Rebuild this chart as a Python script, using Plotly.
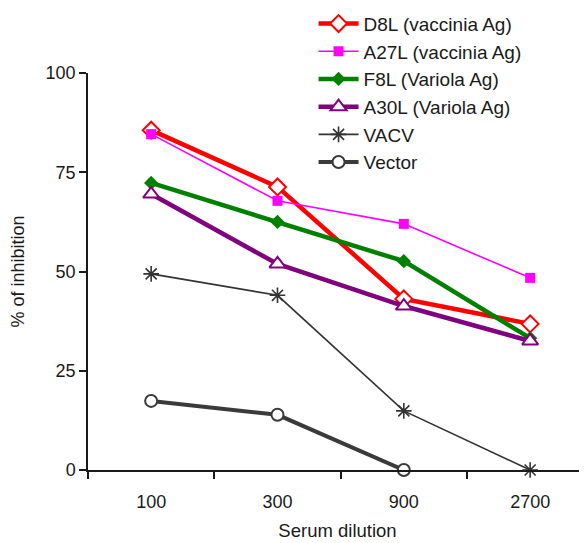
import plotly.graph_objects as go

categories = ["100", "300", "900", "2700"]
x_pos = [0, 1, 2, 3]

d8l = [85.6, 71.3, 43.1, 36.8]
a27l = [84.6, 67.8, 62.0, 48.4]
f8l = [72.3, 62.5, 52.6, 33.2]
a30l = [69.5, 51.9, 41.3, 32.5]
vacv = [49.4, 44.0, 14.9, 0.0]
vector = [17.4, 13.9, 0.0, None]

series = [
    ("D8L (vaccinia Ag)", d8l, "#ff0000", 4.5, "diamond", 13, "white", 2),
    ("A27L (vaccinia Ag)", a27l, "#ff00ff", 1.6, "square", 10, "#ff00ff", 0),
    ("F8L (Variola Ag)", f8l, "#008000", 4.5, "diamond", 11, "#008000", 0),
    ("A30L (Variola Ag)", a30l, "#800080", 4.5, "triangle-up", 14, "white", 2),
    ("VACV", vacv, "#333333", 1.6, "asterisk-open", 13, "#333333", 1.6),
    ("Vector", vector, "#3a3a3a", 4, "circle", 12, "white", 2),
]

fig = go.Figure()
for name, vals, color, lw, sym, size, fill, mlw in series:
    fig.add_trace(go.Scatter(
        x=x_pos, y=vals, name=name, mode="lines+markers",
        line=dict(color=color, width=lw),
        marker=dict(symbol=sym, size=size, color=fill,
                    line=dict(color=color, width=mlw)),
        cliponaxis=False,
    ))

fig.update_layout(
    width=587, height=543,
    margin=dict(l=80, r=8, t=65, b=81, autoexpand=False),
    plot_bgcolor="white", paper_bgcolor="white",
    font=dict(family="Liberation Sans, Arial", size=18, color="#1a1a1a"),
    legend=dict(x=0.452, y=1.172, xanchor="left", yanchor="top",
                bgcolor="rgba(0,0,0,0)", font=dict(size=19, color="#1a1a1a"),
                itemwidth=40, tracegroupgap=0),
    showlegend=True,
)
fig.update_xaxes(
    range=[-0.5, 3.45], tickvals=x_pos, ticktext=categories, ticks="",
    ticklabelstandoff=15,
    showgrid=False, zeroline=False, showline=True, linecolor="#1a1a1a", linewidth=1.5,
    minor=dict(tick0=0.5, dtick=1, ticks="outside", ticklen=7, tickcolor="#1a1a1a", tickwidth=1.5, showgrid=False),
    title=dict(text="Serum dilution", font=dict(size=18.5), standoff=13),
    tickfont=dict(size=18),
)
fig.update_yaxes(
    range=[0, 100], tickvals=[0, 25, 50, 75, 100], ticks="outside", ticklen=7,
    tickcolor="#1a1a1a", tickwidth=1.5,
    showgrid=False, zeroline=False, showline=True, linecolor="#1a1a1a", linewidth=1.5,
    title=dict(text="% of inhibition", font=dict(size=18), standoff=18),
    tickfont=dict(size=18),
)
fig.write_html("out.html")
